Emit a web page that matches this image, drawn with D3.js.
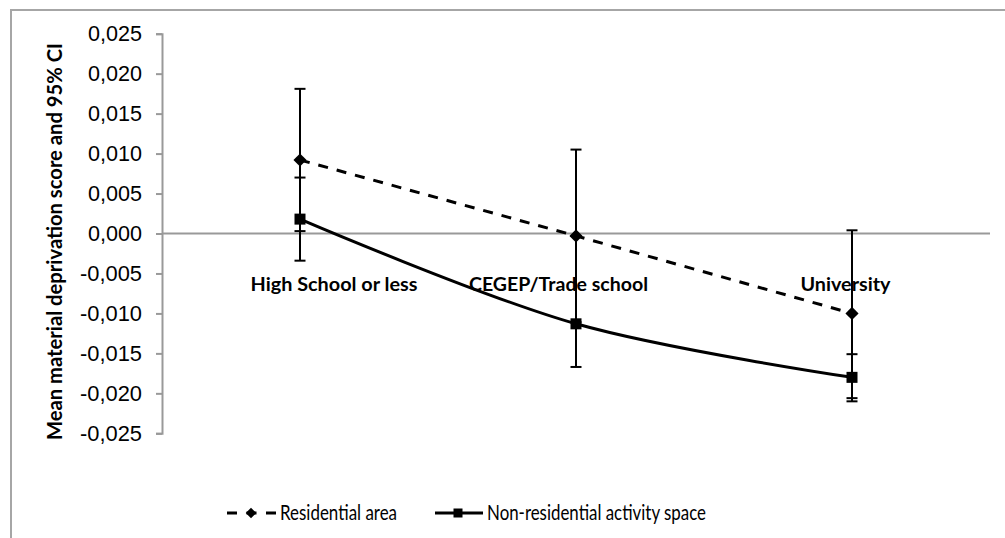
<!DOCTYPE html>
<html>
<head>
<meta charset="utf-8">
<script src="https://cdn.jsdelivr.net/npm/d3@7/dist/d3.min.js"></script>
<style>
  html, body { margin: 0; padding: 0; background: #fff; }
  svg { display: block; }
</style>
</head>
<body>
<svg id="chart" width="1005" height="538"></svg>
<script>
// ---- Data ----
const categories = ["High School or less", "CEGEP/Trade school", "University"];
const seriesNames = ["Residential area", "Non-residential activity space"];
const residentialMean  = [0.0092, -0.0003, -0.0100];
const residentialLower = [0.0003, -0.0111, -0.0206];
const residentialUpper = [0.0181, 0.0105, 0.0004];
const nonResMean  = [0.0018, -0.0113, -0.0180];
const nonResLower = [-0.0034, -0.0167, -0.0210];
const nonResUpper = [0.0070, -0.0003, -0.0151];
const yTicks = [0.025, 0.020, 0.015, 0.010, 0.005, 0.000, -0.005, -0.010, -0.015, -0.020, -0.025];
const yTickLabels = ["0,025", "0,020", "0,015", "0,010", "0,005", "0,000", "-0,005", "-0,010", "-0,015", "-0,020", "-0,025"];
const yTitle = "Mean material deprivation score and 95% CI";

// ---- Layout ----
const svg = d3.select("#chart");
const plot = { left: 162, right: 990, top: 33.7, bottom: 433.3 };
const labelDx = [34, -17.5, -6.5];
const labelWidths = [167, 179, 90];

const x = d3.scaleBand().domain(categories).range([plot.left, plot.right]).padding(0);
const cx = c => x(c) + x.bandwidth() / 2;
const y = d3.scaleLinear().domain([-0.025, 0.025]).range([plot.bottom, plot.top]);

// Outer frame (only top and left visible)
svg.append("rect")
  .attr("x", 11).attr("y", 10).attr("width", 1100).attr("height", 600)
  .attr("fill", "none").attr("stroke", "#a6a6a6").attr("stroke-width", 2);

// Y axis
const yAxis = d3.axisLeft(y).tickValues(yTicks).tickSize(6).tickPadding(14)
  .tickFormat((d, i) => yTickLabels[i]);
const gy = svg.append("g").attr("transform", `translate(${plot.left},0)`).call(yAxis);
gy.select(".domain").attr("stroke", "#999").attr("stroke-width", 2);
gy.selectAll(".tick line").attr("stroke", "#999").attr("stroke-width", 2);
gy.selectAll(".tick text")
  .attr("font-family", "'Liberation Sans', Arial, sans-serif")
  .attr("font-size", 22).attr("fill", "#000")
  .attr("textLength", (d, i) => yTickLabels[i].startsWith("-") ? 62 : 54)
  .attr("lengthAdjust", "spacingAndGlyphs");

// X axis line at zero
svg.append("line")
  .attr("x1", plot.left).attr("x2", plot.right)
  .attr("y1", y(0)).attr("y2", y(0))
  .attr("stroke", "#999").attr("stroke-width", 2);

// Y title
svg.append("text")
  .attr("transform", `translate(62,${(440 + 43) / 2}) rotate(-90)`)
  .attr("text-anchor", "middle")
  .attr("font-family", "Lato, 'Open Sans', sans-serif")
  .attr("font-weight", "bold").attr("font-size", 21)
  .attr("textLength", 397).attr("lengthAdjust", "spacingAndGlyphs")
  .text(yTitle);

// Error bars
function errorBars(lower, upper) {
  categories.forEach((c, i) => {
    const xx = cx(c);
    const g = svg.append("g").attr("stroke", "#000").attr("stroke-width", 2);
    g.append("line").attr("x1", xx).attr("x2", xx).attr("y1", y(lower[i])).attr("y2", y(upper[i]));
    g.append("line").attr("x1", xx - 5.5).attr("x2", xx + 5.5).attr("y1", y(lower[i])).attr("y2", y(lower[i]));
    g.append("line").attr("x1", xx - 5.5).attr("x2", xx + 5.5).attr("y1", y(upper[i])).attr("y2", y(upper[i]));
  });
}
errorBars(residentialLower, residentialUpper);
errorBars(nonResLower, nonResUpper);

// Lines
const resLine = d3.line().x((d, i) => cx(categories[i])).y(d => y(d));
svg.append("path").datum(residentialMean)
  .attr("d", resLine).attr("fill", "none").attr("stroke", "#000")
  .attr("stroke-width", 3).attr("stroke-dasharray", "10,9");

const nrLine = d3.line().x((d, i) => cx(categories[i])).y(d => y(d)).curve(d3.curveCatmullRom.alpha(0.5));
svg.append("path").datum(nonResMean)
  .attr("d", nrLine).attr("fill", "none").attr("stroke", "#000")
  .attr("stroke-width", 3);

// Markers
const diamond = d3.symbol().type(d3.symbolDiamond2).size(110);
svg.selectAll(".dia").data(residentialMean).enter().append("path")
  .attr("d", diamond)
  .attr("transform", (d, i) => `translate(${cx(categories[i])},${y(d)})`)
  .attr("fill", "#000");
const sq = 11;
svg.selectAll(".sq").data(nonResMean).enter().append("rect")
  .attr("x", (d, i) => cx(categories[i]) - sq / 2)
  .attr("y", d => y(d) - sq / 2)
  .attr("width", sq).attr("height", sq).attr("fill", "#000");

// Category labels
svg.selectAll(".cat").data(categories).enter().append("text")
  .attr("x", (d, i) => cx(d) + labelDx[i])
  .attr("y", 290.5)
  .attr("text-anchor", "middle")
  .attr("font-family", "Lato, 'Open Sans', sans-serif")
  .attr("font-weight", "bold").attr("font-size", 19)
  .attr("textLength", (d, i) => labelWidths[i]).attr("lengthAdjust", "spacingAndGlyphs")
  .attr("fill", "#000")
  .text(d => d);

// Legend
const ly = 513;
const lg = svg.append("g");
lg.append("line").attr("x1", 227).attr("x2", 276).attr("y1", ly).attr("y2", ly)
  .attr("stroke", "#000").attr("stroke-width", 3).attr("stroke-dasharray", "10,9.5");
lg.append("path").attr("d", d3.symbol().type(d3.symbolDiamond2).size(70))
  .attr("transform", `translate(251,${ly})`).attr("fill", "#000");
lg.append("text").attr("x", 280).attr("y", ly + 7)
  .attr("font-family", "Lato, 'Open Sans', sans-serif").attr("font-size", 21)
  .attr("textLength", 117).attr("lengthAdjust", "spacingAndGlyphs")
  .text(seriesNames[0]);
lg.append("line").attr("x1", 435).attr("x2", 483).attr("y1", ly).attr("y2", ly)
  .attr("stroke", "#000").attr("stroke-width", 3);
lg.append("rect").attr("x", 458 - 4.5).attr("y", ly - 4.5).attr("width", 9).attr("height", 9).attr("fill", "#000");
lg.append("text").attr("x", 487).attr("y", ly + 7)
  .attr("font-family", "Lato, 'Open Sans', sans-serif").attr("font-size", 21)
  .attr("textLength", 219).attr("lengthAdjust", "spacingAndGlyphs")
  .text(seriesNames[1]);
</script>
</body>
</html>
